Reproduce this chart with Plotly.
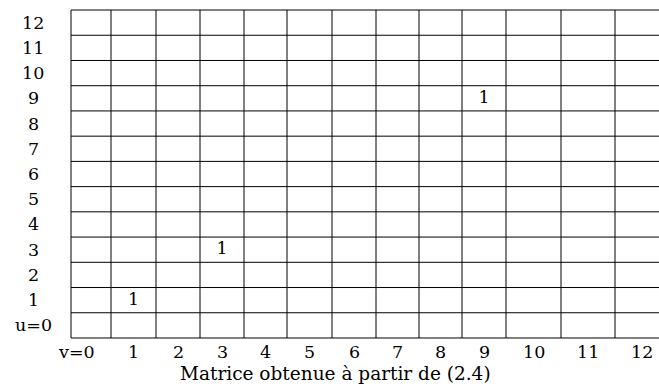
import plotly.graph_objects as go

# ---- data ----
col_labels = ["v=0", "1", "2", "3", "4", "5", "6", "7", "8", "9", "10", "11", "12"]
row_labels = ["u=0", "1", "2", "3", "4", "5", "6", "7", "8", "9", "10", "11", "12"]
entry_u = [1, 3, 9]
entry_v = [1, 3, 9]
entry_text = ["1", "1", "1"]
caption = "Matrice obtenue à partir de (2.4)"

# ---- layout constants (pixel-based column widths, like a LaTeX tabular) ----
col_widths = [40, 45, 44, 44, 43, 45, 44, 43, 43, 44, 55, 54, 54]
bounds = [0]
for w in col_widths:
    bounds.append(bounds[-1] + w)
centers = [(bounds[i] + bounds[i + 1]) / 2 for i in range(len(col_widths))]
nrows = len(row_labels)

X0, X1 = -1, 588
Y0, Y1 = -0.04, nrows + 0.04


def px(x):
    return (x - X0) / (X1 - X0)


def py(y):
    return (y - Y0) / (Y1 - Y0)


FONT = "DejaVu Serif"
FS = 17.5
CAP_FS = 18.5

fig = go.Figure()

shapes = []
for b in bounds:
    shapes.append(dict(type="line", xref="x", yref="y", x0=b, x1=b, y0=0, y1=nrows,
                       line=dict(color="black", width=1)))
for r in range(nrows + 1):
    shapes.append(dict(type="line", xref="x", yref="y", x0=0, x1=bounds[-1], y0=r, y1=r,
                       line=dict(color="black", width=1)))

fig.add_trace(go.Scatter(
    x=[centers[v] for v in entry_v],
    y=[u + 0.5 for u in entry_u],
    text=entry_text, mode="text",
    textfont=dict(family=FONT, size=FS, color="black"),
    hoverinfo="skip", showlegend=False,
))

annotations = []
for i, lab in enumerate(col_labels):
    x = centers[i] if i > 0 else 5
    annotations.append(dict(x=px(x), y=py(-0.55), xref="paper", yref="paper", text=lab,
                            showarrow=False, font=dict(family=FONT, size=FS, color="black"),
                            xanchor="center", yanchor="middle"))
for r, lab in enumerate(row_labels):
    annotations.append(dict(x=px(-38), y=py(r + 0.5), xref="paper", yref="paper", text=lab,
                            showarrow=False, font=dict(family=FONT, size=FS, color="black"),
                            xanchor="center", yanchor="middle"))
annotations.append(dict(x=px(264), y=py(-1.40), xref="paper", yref="paper", text=caption,
                        showarrow=False, font=dict(family=FONT, size=CAP_FS, color="black"),
                        xanchor="center", yanchor="middle"))

fig.update_layout(
    width=659, height=387,
    margin=dict(l=70, r=0, t=9, b=48),
    paper_bgcolor="white", plot_bgcolor="white",
    xaxis=dict(range=[X0, X1], visible=False, fixedrange=True),
    yaxis=dict(range=[Y0, Y1], visible=False, fixedrange=True),
    shapes=shapes, annotations=annotations,
)

fig.write_html("out.html")
